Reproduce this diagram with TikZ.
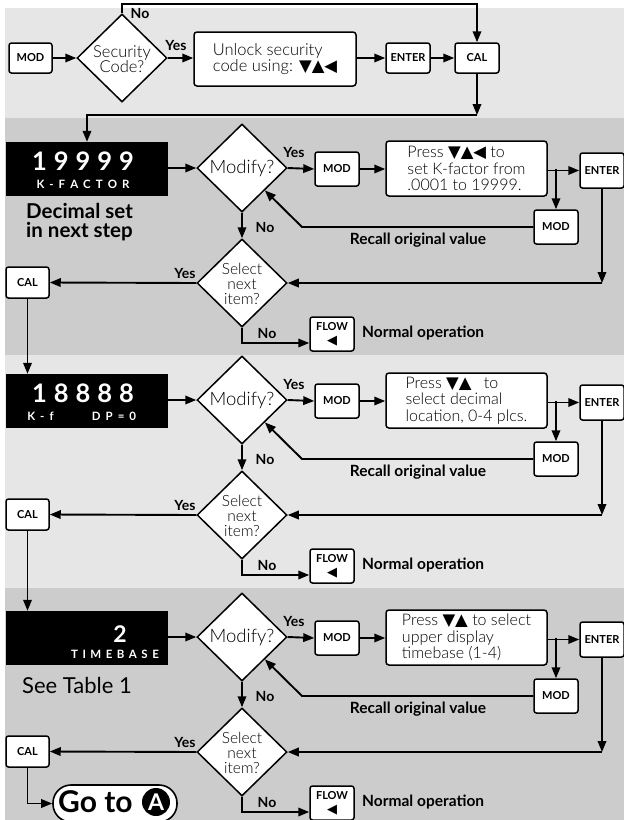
\documentclass[tikz,border=0pt]{standalone}
\usepackage{fontspec}
\setmainfont{Lato}
\newfontfamily\lightfont{Lato Light}
\newfontfamily\symfont{DejaVu Sans}
\usetikzlibrary{arrows.meta,shapes.geometric,calc}
\definecolor{bandlight}{RGB}{230,230,230}
\definecolor{banddark}{RGB}{204,204,204}
\def\gA{\kern7pt}
\def\gB{\kern5pt}
\def\tri#1{{\symfont\fontsize{16.5}{16}\selectfont #1}}
\newcommand\blockrow[4]{%
 \node[disp] (disp#1) at (87,169+#2) {};
 \node[diam] (modq#1) at (242,168+#2) {};
 \node[dtext] (modqt#1) at (modq#1) {Modify?};
 \node[keybox, minimum height=34pt] (moda#1) at (337,169+#2) {MOD};
 \node[infobox] (press#1) at (466.5,168.5+#2) {#3};
 \node[keybox, minimum height=35pt] (ent#1) at (602,170.5+#2) {ENTER};
 \node[keybox, minimum height=34pt] (modb#1) at (556,227+#2) {MOD};
 \node[diam] (selq#1) at (242,283+#2) {};
 \node[dtext, font=\lightfont\fontsize{15.5}{15}\selectfont] (selqt#1) at (242,283.5+#2) {Select\\next\\item?};
 \node[keybox, minimum width=43pt, minimum height=31pt] (cal#1) at (27.5,282.5+#2) {CAL};
 \node[keybox, minimum height=34pt, align=center, font=\bfseries\fontsize{11}{14}\selectfont] (flow#1) at (332,334+#2) {FLOW\\{\symfont\fontsize{13}{13}\selectfont ◀}};
 \node[lbl, anchor=west, font=\bfseries\fontsize{15.5}{16}\selectfont] (norm#1) at (362,333+#2) {Normal operation};
 \node[lbl, font=\bfseries\fontsize{15.5}{16}\selectfont] (recall#1) at (418,240+#2) {Recall original value};
 \node[lbl] (ym#1) at (294,152+#2) {Yes};
 \node[lbl] (nm#1) at (265,227+#2) {No};
 \node[lbl] (ys#1) at (185,273+#2) {Yes};
 \node[lbl] (ns#1) at (267,333+#2) {No};
 \coordinate (br#1) at (press#1.east -| modb#1.north);
 \coordinate (rc#1) at (302,227+#2);
 \coordinate (er#1) at (ent#1.south |- selq#1.east);
 \coordinate (sd#1) at (242,343+#2);
 \draw[arr] (disp#1.east |- modq#1.west) -- (modq#1.west);
 \draw[arr] (modq#1.east) -- (moda#1.west);
 \draw[arr] (moda#1.east) -- (press#1.west |- moda#1.east);
 \draw[arr] (press#1.east |- ent#1.west) -- (ent#1.west);
 \draw[arr] (br#1) -- (modb#1.north);
 \draw[arr] (modb#1.west) -- (rc#1) -- (modq#1.south east);
 \draw[arr] (modq#1.south) -- (selq#1.north);
 \draw[arr] (ent#1.south) -- (er#1);
 \draw[arr] (er#1) -- (selq#1.east);
 \draw[arr] (selq#1.west) -- (cal#1.east);
 \draw[arr] (selq#1.south) -- (sd#1) -- (sd#1 -| flow#1.west);
 #4
}
\begin{document}
\begin{tikzpicture}[x=1pt,y=-1pt,
 arr/.style={line width=1.9pt, -{Triangle[length=11pt,width=8.5pt]}},
 keybox/.style={draw, line width=1.5pt, rounded corners=2.5pt, fill=white, inner sep=0pt,
   minimum width=44pt, minimum height=30pt, font=\bfseries\fontsize{11}{12}\selectfont},
 infobox/.style={draw, line width=1.5pt, rounded corners=3pt, fill=white, inner sep=2pt,
   minimum width=161pt, minimum height=55pt, align=left, font=\lightfont\fontsize{16}{16.5}\selectfont},
 diam/.style={draw, diamond, line width=1.5pt, fill=white, inner sep=0pt, minimum width=90pt, minimum height=88pt},
 dtext/.style={align=center, inner sep=0pt, font=\lightfont\fontsize{18.5}{16}\selectfont},
 lbl/.style={inner sep=0pt, font=\bfseries\fontsize{14}{14}\selectfont},
 disp/.style={fill=black, minimum width=162pt, minimum height=54pt, inner sep=0pt},
 dbig/.style={text=white, inner sep=0pt, font=\bfseries\fontsize{25.5}{25}\selectfont},
 dsmall/.style={text=white, inner sep=0pt, font=\bfseries\fontsize{11.5}{12}\selectfont},
 note/.style={inner sep=0pt, anchor=base west, font=\bfseries\fontsize{20.5}{21}\selectfont}]
\useasboundingbox (0,0) rectangle (624,820);
% bands
\fill[bandlight] (5,8) rectangle (624,118);
\fill[banddark] (5,118) rectangle (624,355);
\fill[bandlight] (5,355) rectangle (624,588);
\fill[banddark] (5,588) rectangle (624,820);
% top row
\node[keybox, minimum width=43pt] (mod0) at (30.5,58) {MOD};
\node[diam] (sec) at (122,58) {};
\node[dtext, font=\lightfont\fontsize{16.5}{15.5}\selectfont] (sect) at (122,59) {Security\\Code?};
\node[infobox, minimum height=54pt, minimum width=162pt, font=\lightfont\fontsize{16.5}{16.5}\selectfont] (unl) at (275,59) {Unlock security\\code using: \tri{▼▲◀}};
\node[keybox] (ent0) at (408,58) {ENTER};
\node[keybox] (cal0) at (477,58) {CAL};
\node[lbl] (nsec) at (140,13) {No};
\node[lbl] (ysec) at (176,45) {Yes};
\coordinate (topline) at (0,4);
\coordinate (t1) at (sec.north |- topline);
\coordinate (t2) at (cal0.north |- topline);
\draw[arr] (mod0.east) -- (sec.west);
\draw[arr] (sec.east) -- (unl.west |- sec.east);
\draw[arr] (unl.east |- ent0.west) -- (ent0.west);
\draw[arr] (ent0.east) -- (cal0.west);
\draw[arr] (sec.north) -- (t1) -- (t2) -- (cal0.north);
% three blocks
\blockrow{1}{0}{Press \tri{▼▲◀} to\\set K-factor from\\.0001 to 19999.}{%
 \node[dbig] (d1a) at (83,161) {1\gA 9\gA 9\gA 9\gA 9};
 \node[dsmall] (d1b) at (83,184) {K\gB -\gB F\gB A\gB C\gB T\gB O\gB R};
 \node[note] (dec1) at (26,218) {Decimal set};
 \node[note] (dec2) at (26,237.5) {in next step};
}
\blockrow{2}{232}{Press \tri{▼▲}\enspace\ to\\select decimal\\location, 0-4 plcs.}{%
 \node[dbig] (d2a) at (83,393) {1\gA 8\gA 8\gA 8\gA 8};
 \node[dsmall] (d2b) at (40.5,416) {K\gB -\gB f};
 \node[dsmall] (d2c) at (114,416) {D\gB P\gB =\gB 0};
}
\blockrow{3}{469}{Press \tri{▼▲} to select\\upper display\\timebase (1-4)}{%
 \node[dbig, font=\bfseries\fontsize{23}{23}\selectfont] (d3a) at (120,634.5) {2};
 \node[dsmall] (d3b) at (115,654) {T\kern4.5pt I\kern4.5pt M\kern4.5pt E\kern4.5pt B\kern4.5pt A\kern4.5pt S\kern4.5pt E};
 \node[note, anchor=west, font=\fontsize{22}{22}\selectfont] (seet) at (22,685) {See Table 1};
}
% connections between blocks
\coordinate (c115) at (0,115);
\coordinate (cd1) at (cal0.south |- c115);
\coordinate (cd2) at (disp1.north |- c115);
\draw[arr] (cal0.south) -- (cd1);
\draw[arr] (cd1) -- (cd2) -- (disp1.north);
\draw[arr] (cal1.south) -- (cal1.south |- disp2.north);
\draw[arr] (cal2.south) -- (cal2.south |- disp3.north);
% go to A
\node[draw, line width=1.6pt, fill=white, rounded corners=18pt, minimum width=124pt, minimum height=37pt, inner sep=0pt] (goto) at (115,803.5) {};
\node[inner sep=0pt, anchor=west, font=\bfseries\fontsize{30}{30}\selectfont] (gotot) at (58,801.5) {Go to};
\node[circle, fill=black, minimum size=28pt, inner sep=0pt, text=white, font=\bfseries\fontsize{23}{23}\selectfont] (circA) at (156,802) {A};
\coordinate (gc) at (cal3.south |- goto.west);
\draw[arr] (cal3.south) -- (gc) -- (goto.west);
\end{tikzpicture}
\end{document}
